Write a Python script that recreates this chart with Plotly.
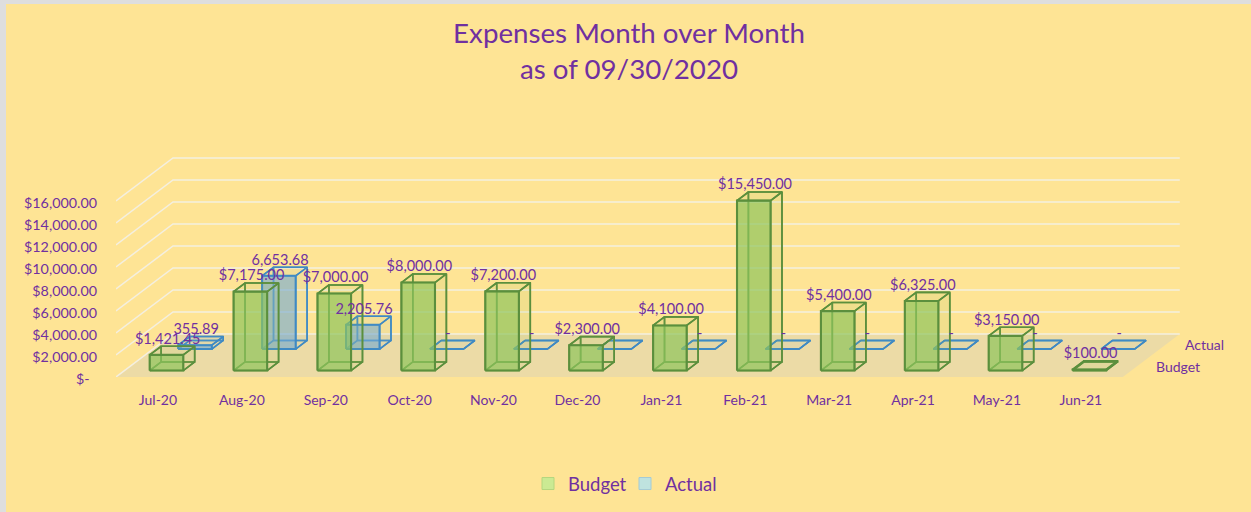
import plotly.graph_objects as go

categories = ["Jul-20", "Aug-20", "Sep-20", "Oct-20", "Nov-20", "Dec-20",
              "Jan-21", "Feb-21", "Mar-21", "Apr-21", "May-21", "Jun-21"]
budget = [1421.45, 7175, 7000, 8000, 7200, 2300, 4100, 15450, 5400, 6325, 3150, 100]
actual = [355.89, 6653.68, 2205.76, 0, 0, 0, 0, 0, 0, 0, 0, 0]
budget_labels = ["$1,421.45", "$7,175.00", "$7,000.00", "$8,000.00", "$7,200.00", "$2,300.00",
                 "$4,100.00", "$15,450.00", "$5,400.00", "$6,325.00", "$3,150.00", "$100.00"]
actual_labels = ["355.89", "6,653.68", "2,205.76", "-", "-", "-", "-", "-", "-", "-", "-", "-"]
y_ticks = [0, 2000, 4000, 6000, 8000, 10000, 12000, 14000, 16000]
y_labels = ["$-\u00a0\u00a0", "$2,000.00", "$4,000.00", "$6,000.00", "$8,000.00",
            "$10,000.00", "$12,000.00", "$14,000.00", "$16,000.00"]

W, H = 1251, 512
PLOT_L, PLOT_R, PLOT_T, PLOT_B = 116, 1245, 8, 377
PX_CAT = 83.9      # pixels per category
PX_VAL = 0.011     # pixels per dollar
DEPTH_X, DEPTH_Y = 57, 43   # screen offset of the full depth axis, pixels

PURPLE = "#7030A0"
BG = "#FEE495"
FONT = "Lato"


def px(c, v, d):
    """Oblique projection of (category, value, depth) into x/y data units."""
    return c + d * DEPTH_X / PX_CAT, v + d * DEPTH_Y / PX_VAL


def paper_x(p):
    return (p - PLOT_L) / (PLOT_R - PLOT_L)


def paper_y(p):
    return (PLOT_B - p) / (PLOT_B - PLOT_T)


def polys(faces):
    xs, ys = [], []
    for face in faces:
        for c, v, d in face:
            x, y = px(c, v, d)
            xs.append(x)
            ys.append(y)
        xs.append(None)
        ys.append(None)
    return xs, ys


def box(i, v, d0):
    c0, c1 = i + 0.3, i + 0.7
    d1 = d0 + 0.2
    return {
        "front": [(c0, 0, d0), (c1, 0, d0), (c1, v, d0), (c0, v, d0), (c0, 0, d0)],
        "back": [(c0, 0, d1), (c1, 0, d1), (c1, v, d1), (c0, v, d1), (c0, 0, d1)],
        "left": [(c0, 0, d0), (c0, 0, d1), (c0, v, d1), (c0, v, d0), (c0, 0, d0)],
        "right": [(c1, 0, d0), (c1, 0, d1), (c1, v, d1), (c1, v, d0), (c1, 0, d0)],
        "top": [(c0, v, d0), (c1, v, d0), (c1, v, d1), (c0, v, d1), (c0, v, d0)],
        "bottom": [(c0, 0, d0), (c1, 0, d0), (c1, 0, d1), (c0, 0, d1), (c0, 0, d0)],
    }


fig = go.Figure()

# floor
xs, ys = polys([[(0, 0, 0), (12, 0, 0), (12, 0, 1), (0, 0, 1), (0, 0, 0)]])
fig.add_trace(go.Scatter(x=xs, y=ys, mode="lines", fill="toself", fillcolor="#ECDBA6",
                         line=dict(width=0), hoverinfo="skip", showlegend=False))

# gridlines on side wall and back wall
gx, gy = [], []
for t in y_ticks:
    for p in [(0, t, 0), (0, t, 1), (12, t, 1)]:
        x, y = px(*p)
        gx.append(x)
        gy.append(y)
    gx.append(None)
    gy.append(None)
fig.add_trace(go.Scatter(x=gx, y=gy, mode="lines", line=dict(color="#F4EFE0", width=1.5),
                         hoverinfo="skip", showlegend=False))


def add_series(values, d0, edge, front_fill, side_fill, name, swatch, swatch_line, edge_w):
    boxes = [box(i, v, d0) for i, v in enumerate(values)]
    xs, ys = polys([b[k] for b in boxes for k in ("back", "left", "bottom")])
    fig.add_trace(go.Scatter(x=xs, y=ys, mode="lines", line=dict(color=edge, width=edge_w),
                             hoverinfo="skip", showlegend=False))
    xs, ys = polys([b[k] for b in boxes for k in ("right", "top")])
    fig.add_trace(go.Scatter(x=xs, y=ys, mode="lines", fill="toself", fillcolor=side_fill,
                             line=dict(color=edge, width=edge_w), hoverinfo="skip", showlegend=False))
    xs, ys = polys([b["front"] for b in boxes])
    fig.add_trace(go.Scatter(x=xs, y=ys, mode="lines", fill="toself", fillcolor=front_fill,
                             line=dict(color=edge, width=edge_w + 0.5), hoverinfo="skip", showlegend=False))
    fig.add_trace(go.Scatter(x=[None], y=[None], mode="markers", name=name,
                             marker=dict(symbol="square", size=12, color=swatch,
                                         line=dict(color=swatch_line, width=1))))


add_series(actual, 0.65, "#3F8AC4", "rgba(115,170,210,0.62)", "rgba(150,190,200,0.10)",
           "Actual", "#BFE3DF", "#A4CBD6", 1.5)
add_series(budget, 0.15, "#5B8F3D", "rgba(142,197,92,0.70)", "rgba(150,190,90,0.12)",
           "Budget", "#CBEA93", "#B4D67F", 1.6)

# data labels
LABEL_DX = -4.5 / PX_CAT
LABEL_DY = 10.5 / PX_VAL
for values, labels, dmid in ((actual, actual_labels, 0.75), (budget, budget_labels, 0.25)):
    pts = [px(i + 0.5, v, dmid) for i, v in enumerate(values)]
    fig.add_trace(go.Scatter(x=[p[0] + LABEL_DX for p in pts], y=[p[1] + LABEL_DY for p in pts],
                             mode="text", text=labels, textposition="middle center",
                             textfont=dict(family=FONT, size=14.5, color=PURPLE),
                             cliponaxis=False, hoverinfo="skip", showlegend=False))

# depth axis labels
annotations = []
for label, dmid in (("Actual", 0.75), ("Budget", 0.25)):
    x, y = px(12, 0, dmid)
    annotations.append(dict(x=x, y=y, text=label, showarrow=False, xanchor="left", yanchor="middle",
                            xshift=17, font=dict(family=FONT, size=14, color=PURPLE)))

# thin grey strip along the left and top edges of the picture
shapes = [
    dict(type="rect", xref="paper", yref="paper", x0=paper_x(0), x1=paper_x(6),
         y0=paper_y(H), y1=paper_y(0), fillcolor="#DEDEDE", line=dict(width=0), layer="above"),
    dict(type="rect", xref="paper", yref="paper", x0=paper_x(0), x1=paper_x(W),
         y0=paper_y(4), y1=paper_y(0), fillcolor="#DEDEDE", line=dict(width=0), layer="above"),
]

fig.update_layout(
    width=W, height=H, autosize=False,
    margin=dict(l=PLOT_L, r=W - PLOT_R, t=PLOT_T, b=H - PLOT_B),
    paper_bgcolor=BG, plot_bgcolor=BG,
    font=dict(family=FONT, color=PURPLE),
    title=dict(text="Expenses Month over Month<br>as of 09/30/2020",
               x=629 / W, xanchor="center", y=1 - 43 / H, yanchor="middle",
               font=dict(family=FONT, size=27.7, color=PURPLE)),
    xaxis=dict(range=[0, (PLOT_R - PLOT_L) / PX_CAT],
               tickvals=[i + 0.5 for i in range(12)], ticktext=categories,
               ticks="", showgrid=False, zeroline=False, showline=False,
               ticklabelstandoff=13, tickfont=dict(family=FONT, size=14, color=PURPLE)),
    yaxis=dict(range=[0, (PLOT_B - PLOT_T) / PX_VAL],
               tickvals=y_ticks, ticktext=y_labels,
               ticks="", showgrid=False, zeroline=False, showline=False,
               ticklabelstandoff=18, ticklabelshift=2,
               tickfont=dict(family=FONT, size=14.3, color=PURPLE)),
    legend=dict(orientation="h", traceorder="reversed", x=paper_x(528), xanchor="left",
                y=paper_y(484), yanchor="middle", bgcolor="rgba(0,0,0,0)",
                entrywidth=52, entrywidthmode="pixels",
                font=dict(family=FONT, size=18.5, color=PURPLE)),
    annotations=annotations,
    shapes=shapes,
    hovermode=False,
)

fig.write_html("out.html", config=dict(displayModeBar=False),
               post_script="document.body.style.margin='0';document.body.style.overflow='hidden';")
